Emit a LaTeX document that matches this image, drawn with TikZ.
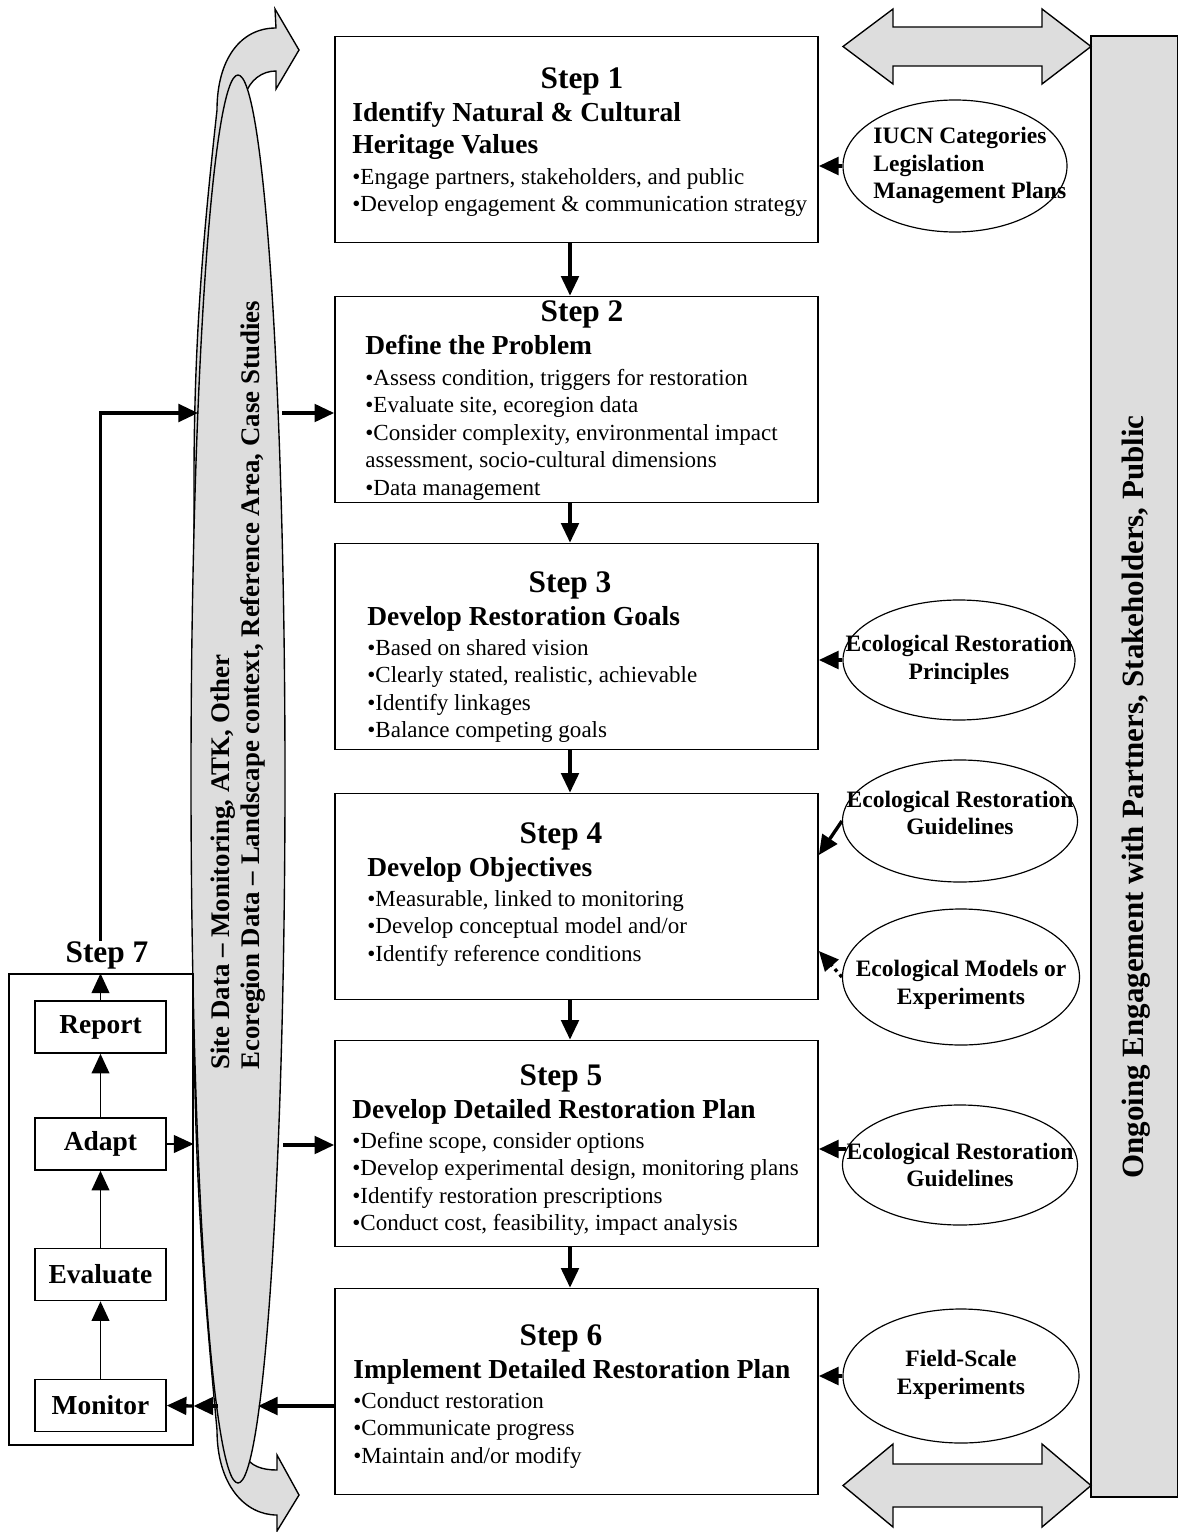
\documentclass[tikz,border=0pt]{standalone}
\usepackage{fontspec}
\setmainfont{Liberation Serif}
\usetikzlibrary{arrows.meta, calc, shapes.geometric}
\definecolor{railgray}{HTML}{DDDDDD}
\newdimen\pxu \pxu=0.51pt
\newcommand{\rows}[1]{\begin{tabular}[t]{@{}l@{}}#1\end{tabular}}

\tikzset{
  stepbox/.style={draw, line width=0.9pt, minimum width=483\pxu, minimum height=206\pxu, inner sep=0},
  stephead/.style={font=\fontsize{16}{19}\selectfont\bfseries, inner sep=0, anchor=base},
  stepsub/.style={font=\fontsize{14}{16.3}\selectfont\bfseries, inner sep=0, anchor=base west},
  stepbody/.style={font=\fontsize{11.75}{14}\selectfont, inner sep=0, anchor=base west},
  loopbox/.style={draw, line width=0.8pt, minimum width=131\pxu, minimum height=52\pxu, inner sep=0, font=\fontsize{14}{16}\selectfont\bfseries},
  source/.style={draw, ellipse, line width=0.6pt, inner sep=0},
  sourcetext/.style={font=\fontsize{12}{14}\selectfont\bfseries, inner sep=0, align=center},
  flow/.style={line width=1.7pt, -{Triangle[length=10pt,width=9pt]}},
  thinflow/.style={line width=0.9pt, -{Triangle[length=10pt,width=9pt]}},
}

\begin{document}
\begin{tikzpicture}[x=0.51pt, y=-0.51pt]
  \useasboundingbox (0,0) rectangle (1177,1532);
  \coordinate (spine) at (570,0);

  % data band on the left
  \draw[fill=railgray, line width=0.7pt] (276,28) .. controls (240,28) and (217,60) .. (217,110)
    .. controls (205,220) and (194,330) .. (194,480) -- (194,1000)
    .. controls (194,1180) and (205,1300) .. (217,1430)
    .. controls (217,1485) and (245,1515) .. (277,1515) -- (277,1531) -- (299,1495) -- (277,1455) -- (277,1470)
    .. controls (262,1470) and (250,1466) .. (245,1455) -- (245,95)
    .. controls (250,80) and (262,71) .. (276,71) -- (276,89) -- (299,50) -- (275,9) -- cycle;
  \node[draw, ellipse, fill=railgray, line width=0.7pt, minimum width=94\pxu, minimum height=1408\pxu, inner sep=0] (data) at (238,779) {};
  \node[font=\fontsize{13.7}{15.6}\selectfont\bfseries, rotate=90, anchor=base west, inner sep=0] (datalab) at (229,1070)
    {\rows{Site Data -- Monitoring, ATK, Other\\Ecoregion Data -- Landscape context, Reference Area, Case Studies}};

  % engagement rail and double arrows
  \node[draw, fill=railgray, line width=0.8pt, minimum width=87\pxu, minimum height=1461\pxu, inner sep=0] (eng) at (1134.5,766.5) {};
  \node[font=\fontsize{15.8}{19}\selectfont\bfseries, rotate=90, anchor=base, inner sep=0] (englab) at (1143,797)
    {Ongoing Engagement with Partners, Stakeholders, Public};
  \foreach \cy/\hh/\sh in {46.5/37.5/19.5, 1485.5/41.5/21.5}
    \draw[fill=railgray, line width=0.7pt] (843,\cy) -- (893,\cy-\hh) -- (893,\cy-\sh) -- (1042,\cy-\sh) -- (1042,\cy-\hh)
      -- (1091,\cy) -- (1042,\cy+\hh) -- (1042,\cy+\sh) -- (893,\cy+\sh) -- (893,\cy+\hh) -- cycle;

  % steps 1--6
  \foreach \n/\cy/\hx/\hb/\tx/\sub/\body in {
    1/139.5/582/89/352/{Identify Natural \& Cultural\\Heritage Values}/{•Engage partners, stakeholders, and public\\•Develop engagement \& communication strategy},
    2/399.5/582/322/365/{Define the Problem}/{•Assess condition, triggers for restoration\\•Evaluate site, ecoregion data\\•Consider complexity, environmental impact\\assessment, socio-cultural dimensions\\•Data management},
    3/646.5/570/592/367/{Develop Restoration Goals}/{•Based on shared vision\\•Clearly stated, realistic, achievable\\•Identify linkages\\•Balance competing goals},
    4/896.5/561/843/367/{Develop Objectives}/{•Measurable, linked to monitoring\\•Develop conceptual model and/or\\•Identify reference conditions},
    5/1143.5/561/1085/352/{Develop Detailed Restoration Plan}/{•Define scope, consider options\\•Develop experimental design, monitoring plans\\•Identify restoration prescriptions\\•Conduct cost, feasibility, impact analysis},
    6/1391.5/561/1345/353/{Implement Detailed Restoration Plan}/{•Conduct restoration\\•Communicate progress\\•Maintain and/or modify}}{
    \node[stepbox] (s\n) at (576.5,\cy) {};
    \node[stephead] (h\n) at (\hx,\hb) {Step \n};
    \node[stepsub] (t\n) at (\tx,\hb+33) {\rows{\sub}};
    \node[stepbody] (b\n) at ([yshift=-10.4pt]t\n.south west) {\rows{\body}};
  }
  \foreach \a/\b in {1/2,2/3,3/4,4/5,5/6}
    \draw[flow] (s\a.south -| spine) -- (s\b.north -| spine);

  % step 7 loop
  \node[draw, line width=0.6pt, minimum width=184\pxu, minimum height=471\pxu, inner sep=0] (s7) at (101,1209.5) {};
  \node[stephead] (s7lab) at (107,962) {Step 7};
  \node[loopbox] (rep) at (100.5,1027) {Report};
  \node[loopbox] (adp) at (100.5,1144) {Adapt};
  \node[loopbox] (evl) at (100.5,1274.5) {Evaluate};
  \node[loopbox] (mon) at (100.5,1405.5) {Monitor};
  \draw[thinflow] (mon.north) -- (evl.south);
  \draw[thinflow] (evl.north) -- (adp.south);
  \draw[thinflow] (adp.north) -- (rep.south);
  \draw[thinflow] (rep.north) -- (rep.north |- s7.north);
  \draw[thinflow] (adp.east) -- (adp.east -| s7.east);

  % links through the data band
  \coordinate (loopin) at (198,413);
  \coordinate (dataout2) at (282,413);
  \coordinate (dataout5) at (283,1145);
  \coordinate (datain6) at (258,1406);
  \coordinate (dataleft6) at (218,1406);
  \draw[flow] (rep.north |- s7lab.north) |- (loopin);
  \draw[flow] (dataout2) -- (dataout2 -| s2.west);
  \draw[flow] (dataout5) -- (dataout5 -| s5.west);
  \draw[flow] (datain6 -| s6.west) -- (datain6);
  \draw[flow] (dataleft6) -- (dataleft6 -| s7.east);
  \draw[flow] (dataleft6 -| s7.east) -- (mon.east);

  % sources on the right
  \node[source, minimum width=224\pxu, minimum height=132\pxu] (iucn) at (955,166) {};
  \node[sourcetext, anchor=base west] (iucnlab) at (873,144) {\rows{IUCN Categories\\Legislation\\Management Plans}};
  \foreach \nm/\cx/\cy/\w/\h/\ty/\txt in {
    prin/959/660/232/120/660/{Ecological Restoration\\Principles},
    guid/960/821/235/122/813/{Ecological Restoration\\Guidelines},
    modl/961/977/237/136/985/{Ecological Models or\\Experiments},
    gui2/960/1165/235/120/1165/{Ecological Restoration\\Guidelines},
    fld/961/1376/236/134/1375/{Field-Scale\\Experiments}}{
    \node[source, minimum width=\w\pxu, minimum height=\h\pxu] (\nm) at (\cx,\cy) {};
    \node[sourcetext] (\nm lab) at (\cx,\ty) {\txt};
  }
  \draw[flow] (iucn.west) -- (iucn.west -| s1.east);
  \draw[flow] (prin.west) -- (prin.west -| s3.east);
  \draw[flow] (guid.west) -- ($(s4.east)+(0,-41.5)$);
  \draw[flow, dotted] (modl.west) -- ($(s4.east)+(0,54.5)$);
  \draw[flow] (gui2.172) -- (gui2.172 -| s5.east);
  \draw[flow] (fld.west) -- (fld.west -| s6.east);
\end{tikzpicture}
\end{document}
